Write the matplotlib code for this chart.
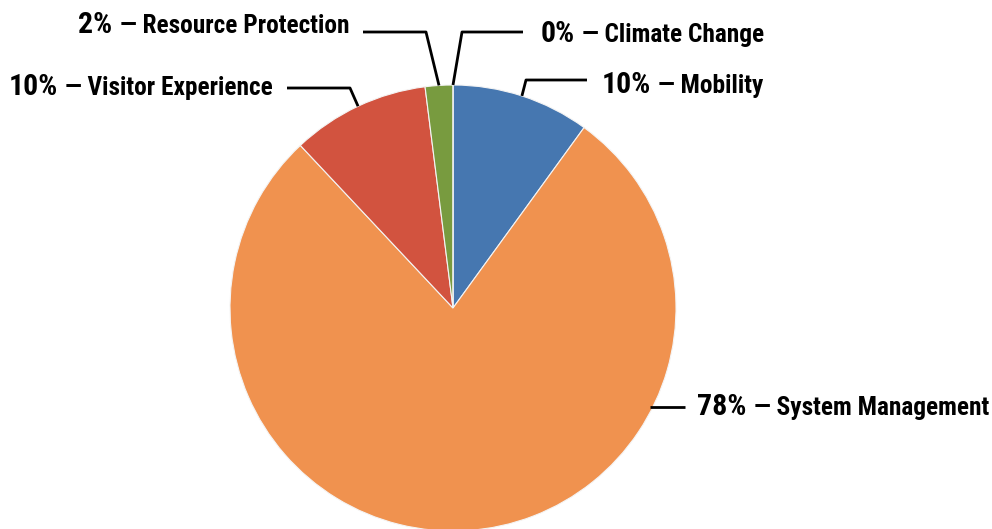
import numpy as np
import matplotlib.pyplot as plt

# data
names = ["Mobility", "System Management", "Visitor Experience",
         "Resource Protection", "Climate Change"]
shares = [10, 78, 10, 2, 0]
colors = ["#4677B0", "#F0924F", "#D2533F", "#789B3F", "#8064A2"]

W, H = 992, 529
fig = plt.figure(figsize=(W / 100, H / 100), dpi=100)
ax = fig.add_axes([0, 0, 1, 1])

cx, cy, r = 453, H - 308, 223
wedges, _ = ax.pie(shares, colors=colors, startangle=90, counterclock=False,
                   center=(cx, cy), radius=r, frame=True,
                   wedgeprops=dict(edgecolor="#f4f4f4", linewidth=0.8))
ax.set_xlim(0, W)
ax.set_ylim(0, H)
ax.axis("off")

FONT = ["Roboto Condensed", "DejaVu Sans"]


def Y(y):
    return H - y


def edge_point(i, frac=0.5):
    w = wedges[i]
    a = np.deg2rad(w.theta1 + (w.theta2 - w.theta1) * frac)
    return cx + r * np.cos(a), cy + r * np.sin(a)


# label layout in screen px (y from top)
layout = {
    0: dict(elbow=(526, 80), end=(587, 80), text=(602, 93), ha="left"),
    1: dict(elbow=None, end=(685, 407), text=(697, 415), ha="left"),
    2: dict(elbow=(350, 88), end=(287, 88), text=(273, 95), ha="right"),
    3: dict(elbow=(426, 32), end=(363, 32), text=(349, 33), ha="right"),
    4: dict(elbow=(462, 32), end=(523, 32), text=(541, 42), ha="left"),
}

fig.canvas.draw()
renderer = fig.canvas.get_renderer()

for i, (name, val) in enumerate(zip(names, shares)):
    L = layout[i]
    if L["elbow"] is None:
        yy = Y(L["end"][1])
        xx = cx + np.sqrt(r ** 2 - (yy - cy) ** 2) - 3
        xs, ys = [xx, L["end"][0]], [yy, yy]
    else:
        px, py = edge_point(i)
        xs = [px, L["elbow"][0], L["end"][0]]
        ys = [py, Y(L["elbow"][1]), Y(L["end"][1])]
    ax.plot(xs, ys, color="black", lw=2, solid_capstyle="butt")

    tx, ty = L["text"][0], Y(L["text"][1])
    pct = f"{val}%"
    rest = f" \u2014 {name}"
    if L["ha"] == "left":
        t1 = ax.text(tx, ty, pct, fontsize=21.5, fontweight="bold", family=FONT,
                     ha="left", va="baseline")
        bb = t1.get_window_extent(renderer)
        ax.text(bb.x1 + 1, ty, rest, fontsize=18.3, fontweight="bold",
                family=FONT, ha="left", va="baseline")
    else:
        t2 = ax.text(tx, ty, rest, fontsize=18.3, fontweight="bold", family=FONT,
                     ha="right", va="baseline")
        bb = t2.get_window_extent(renderer)
        ax.text(bb.x0 - 1, ty, pct, fontsize=21.5, fontweight="bold",
                family=FONT, ha="right", va="baseline")

fig.savefig("out.png", dpi=100, facecolor="white")
